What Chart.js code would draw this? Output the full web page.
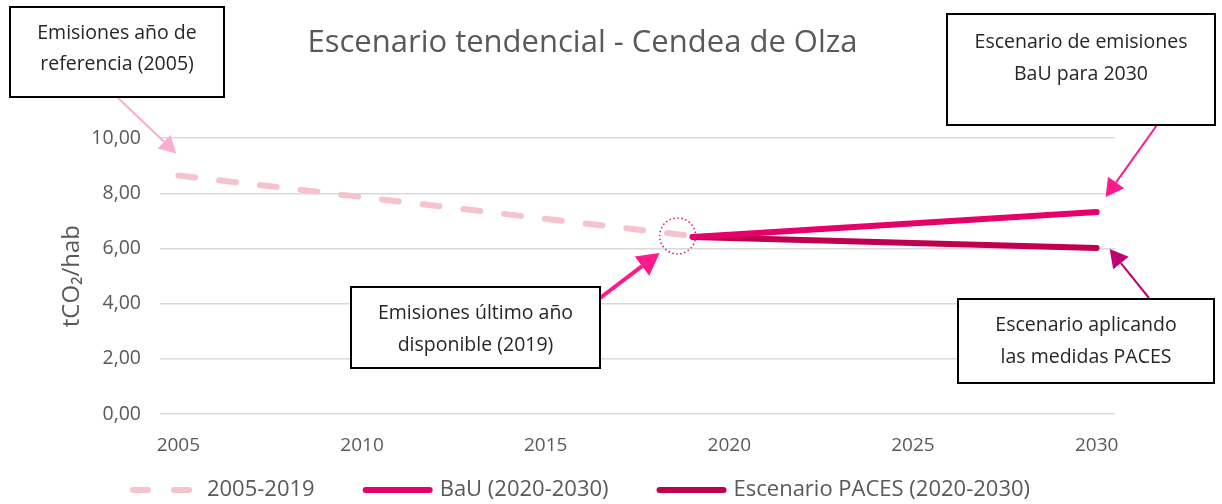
<!DOCTYPE html>
<html>
<head>
<meta charset="utf-8">
<script src="https://cdn.jsdelivr.net/npm/chart.js@4"></script>
<style>
  html, body { margin: 0; padding: 0; background: #fff; }
  #wrap { width: 1222px; height: 504px; position: relative; }
</style>
</head>
<body>
<div id="wrap"><canvas id="chart"></canvas></div>
<script>
// Chart data
const years = ['2005', '2006', '2007', '2008', '2009', '2010', '2011', '2012', '2013',
    '2014', '2015', '2016', '2017', '2018', '2019', '2020', '2021', '2022', '2023',
    '2024', '2025', '2026', '2027', '2028', '2029', '2030'];
const histLabel = '2005-2019';
const histValues = [8.65, null, null, null, null, null, null, null, null, null, null, null, null, null, 6.45];
const bauLabel = 'BaU (2020-2030)';
const bauValues = [null, null, null, null, null, null, null, null, null, null, null, null, null, null, 6.42,
    null, null, null, null, null, null, null, null, null, null, 7.32];
const pacesLabel = 'Escenario PACES (2020-2030)';
const pacesValues = [null, null, null, null, null, null, null, null, null, null, null, null, null, null, 6.42,
    null, null, null, null, null, null, null, null, null, null, 6.02];
const yTicks = [0, 2, 4, 6, 8, 10];

const FONT = "'Open Sans', sans-serif";
const GREY = '#595959';

function drawArrow(ctx, x1, y1, x2, y2, color, width, head) {
    const ang = Math.atan2(y2 - y1, x2 - x1);
    const bx = x2 - head * Math.cos(ang), by = y2 - head * Math.sin(ang);
    ctx.save();
    ctx.strokeStyle = color;
    ctx.fillStyle = color;
    ctx.lineWidth = width;
    ctx.beginPath();
    ctx.moveTo(x1, y1);
    ctx.lineTo(bx, by);
    ctx.stroke();
    const hw = head * 0.55;
    ctx.beginPath();
    ctx.moveTo(x2, y2);
    ctx.lineTo(bx + hw * Math.sin(ang), by - hw * Math.cos(ang));
    ctx.lineTo(bx - hw * Math.sin(ang), by + hw * Math.cos(ang));
    ctx.closePath();
    ctx.fill();
    ctx.restore();
}

function drawBox(ctx, x, y, w, h, lines, lineY) {
    ctx.save();
    ctx.fillStyle = '#fff';
    ctx.fillRect(x, y, w, h);
    ctx.strokeStyle = '#000';
    ctx.lineWidth = 2;
    ctx.strokeRect(x, y, w, h);
    ctx.fillStyle = '#262626';
    ctx.font = '19.5px ' + FONT;
    ctx.textAlign = 'center';
    ctx.textBaseline = 'middle';
    lines.forEach((t, i) => ctx.fillText(t, x + w / 2, lineY[i]));
    ctx.restore();
}

// callout boxes, arrows and the dotted circle
const calloutPlugin = {
    id: 'callouts',
    afterDatasetsDraw(chart) {
        const ctx = chart.ctx;
        const xs = chart.scales.x, ys = chart.scales.y;
        const x05 = xs.getPixelForValue(0), x19 = xs.getPixelForValue(14), x30 = xs.getPixelForValue(25);

        ctx.save();
        ctx.strokeStyle = '#E0157A';
        ctx.lineWidth = 1.5;
        ctx.setLineDash([1.5, 2.5]);
        ctx.beginPath();
        ctx.arc(x19 - 15, ys.getPixelForValue(6.42) - 1, 18, 0, Math.PI * 2);
        ctx.stroke();
        ctx.restore();

        drawArrow(ctx, 117, 97, x05 - 2, ys.getPixelForValue(8.65) - 22, '#F9AECF', 2, 17);
        drawArrow(ctx, 600, 298, x19 - 33, ys.getPixelForValue(6.42) + 16, '#FF1A8C', 4, 22);
        drawArrow(ctx, 1157, 125, x30 + 9, ys.getPixelForValue(7.32) - 15, '#FF1A8C', 2, 18);
        drawArrow(ctx, 1149, 298, x30 + 13, ys.getPixelForValue(6.02) + 1, '#C0006E', 2, 18);

        drawBox(ctx, 10, 7, 214, 90, ['Emisiones año de', 'referencia (2005)'], [33, 64]);
        drawBox(ctx, 947, 14, 268, 111, ['Escenario de emisiones', 'BaU para 2030'], [42, 74]);
        drawBox(ctx, 351, 287, 249, 81, ['Emisiones último año', 'disponible (2019)'], [313, 345]);
        drawBox(ctx, 958, 299, 256, 84, ['Escenario aplicando', 'las medidas PACES'], [325, 357]);
    }
};

// legend along the bottom, built from the datasets
const legendPlugin = {
    id: 'bottomLegend',
    afterDraw(chart) {
        const ctx = chart.ctx;
        const sets = chart.data.datasets;
        const sample = 70, textGap = 7, itemGap = 48, cy = 490, center = 580;
        ctx.save();
        ctx.font = '22px ' + FONT;
        const widths = sets.map(d => ctx.measureText(d.label).width);
        const total = widths.reduce((a, w) => a + sample + textGap + w, 0) + itemGap * (sets.length - 1);
        let x = center - total / 2;
        sets.forEach((d, i) => {
            ctx.strokeStyle = d.borderColor;
            ctx.lineWidth = d.borderWidth;
            ctx.lineCap = 'round';
            ctx.setLineDash(d.borderDash ? [15, 26] : []);
            ctx.beginPath();
            ctx.moveTo(x + 3, cy);
            ctx.lineTo(x + sample - 3, cy);
            ctx.stroke();
            ctx.setLineDash([]);
            ctx.fillStyle = GREY;
            ctx.textAlign = 'left';
            ctx.textBaseline = 'middle';
            ctx.fillText(d.label, x + sample + textGap, cy);
            x += sample + textGap + widths[i] + itemGap;
        });
        ctx.restore();
    }
};

new Chart(document.getElementById('chart'), {
    type: 'line',
    data: {
        labels: years,
        datasets: [
            {
                label: histLabel,
                data: histValues,
                borderColor: '#F5C3CE',
                borderWidth: 6,
                borderDash: [17, 24],
                borderCapStyle: 'round',
                spanGaps: true,
                pointRadius: 0
            },
            {
                label: bauLabel,
                data: bauValues,
                borderColor: '#E6006A',
                borderWidth: 6,
                borderCapStyle: 'round',
                spanGaps: true,
                pointRadius: 0
            },
            {
                label: pacesLabel,
                data: pacesValues,
                borderColor: '#BE004F',
                borderWidth: 6,
                borderCapStyle: 'round',
                spanGaps: true,
                pointRadius: 0
            }
        ]
    },
    options: {
        responsive: true,
        maintainAspectRatio: false,
        animation: false,
        layout: { padding: { left: 50, right: 107, top: 0, bottom: 40 } },
        plugins: {
            title: {
                display: true,
                text: 'Escenario tendencial - Cendea de Olza',
                color: GREY,
                font: { family: FONT, size: 31, weight: 'normal' },
                padding: { top: 25, bottom: 76 }
            },
            legend: { display: false },
            tooltip: { enabled: false }
        },
        scales: {
            x: {
                type: 'category',
                offset: true,
                grid: { display: false },
                border: { display: false },
                afterFit: axis => { axis.height = 50; },
                ticks: {
                    autoSkip: false,
                    maxRotation: 0,
                    color: GREY,
                    padding: 12,
                    font: { family: FONT, size: 19 },
                    callback: function(value, index) {
                        const y = years[index];
                        return Number(y) % 5 === 0 ? y : '';
                    }
                }
            },
            y: {
                min: 0,
                max: 10,
                afterBuildTicks: axis => { axis.ticks = yTicks.map(v => ({ value: v })); },
                afterFit: axis => { axis.width = 110; },
                grid: { color: '#D9D9D9', lineWidth: 1.5, drawTicks: false },
                border: { display: false },
                title: {
                    display: true,
                    text: 'tCO₂/hab',
                    color: GREY,
                    font: { family: FONT, size: 24 },
                    padding: { top: 8, bottom: 0 }
                },
                ticks: {
                    color: GREY,
                    padding: 19,
                    font: { family: FONT, size: 19.5 },
                    callback: v => v.toFixed(2).replace('.', ',')
                }
            }
        }
    },
    plugins: [calloutPlugin, legendPlugin]
});
</script>
</body>
</html>
